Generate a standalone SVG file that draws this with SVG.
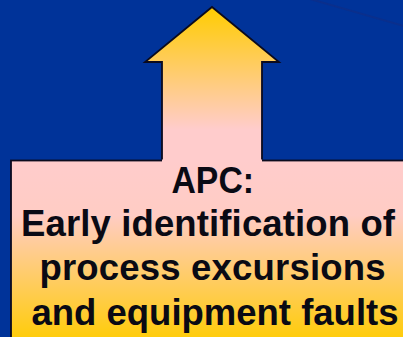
<svg xmlns="http://www.w3.org/2000/svg" width="403" height="337" viewBox="0 0 403 337">
  <defs>
    <linearGradient id="boxFill" gradientUnits="userSpaceOnUse" x1="0" y1="160" x2="0" y2="345">
      <stop offset="0" stop-color="#FFCCCC"/>
      <stop offset="0.3" stop-color="#FFCCC4"/>
      <stop offset="1" stop-color="#FFCC00"/>
    </linearGradient>
    <linearGradient id="arrowFill" gradientUnits="userSpaceOnUse" x1="0" y1="7" x2="0" y2="160">
      <stop offset="0" stop-color="#FFCC00"/>
      <stop offset="0.8" stop-color="#FFCCCC"/>
      <stop offset="1" stop-color="#FFCCCC"/>
    </linearGradient>
    <style>
      .outline { fill: none; stroke: #0b0b1e; stroke-width: 1.8; stroke-linejoin: miter; }
      .label { font-family: "Liberation Sans", Arial, sans-serif; font-weight: bold; font-size: 36.5px; fill: #0a0a14; }
    </style>
  </defs>

  <!-- background -->
  <rect x="0" y="0" width="403" height="337" fill="#003399"/>
  <line x1="310" y1="-1" x2="404" y2="26" stroke="#0d2f8a" stroke-width="2" opacity="0.8"/>

  <!-- text box -->
  <g id="apc-box">
    <rect x="11" y="160.5" width="410" height="190" fill="url(#boxFill)" class="outline" style="fill:url(#boxFill)"/>
    <text class="label" x="171.5" y="193" textLength="82.5" lengthAdjust="spacingAndGlyphs">APC:</text>
    <text class="label" x="21" y="236" textLength="374" lengthAdjust="spacing">Early identification of</text>
    <text class="label" x="39.5" y="280" textLength="346" lengthAdjust="spacing">process excursions</text>
    <text class="label" x="31.5" y="325" textLength="367" lengthAdjust="spacing">and equipment faults</text>
  </g>

  <!-- upward arrow -->
  <g id="up-arrow">
    <path d="M162,162 V62 H145 L212,7 L279,62 H262 V162 Z" fill="url(#arrowFill)"/>
    <path d="M162,159.6 V62 H145 L212,7 L279,62 H262 V159.6" class="outline"/>
  </g>
</svg>
